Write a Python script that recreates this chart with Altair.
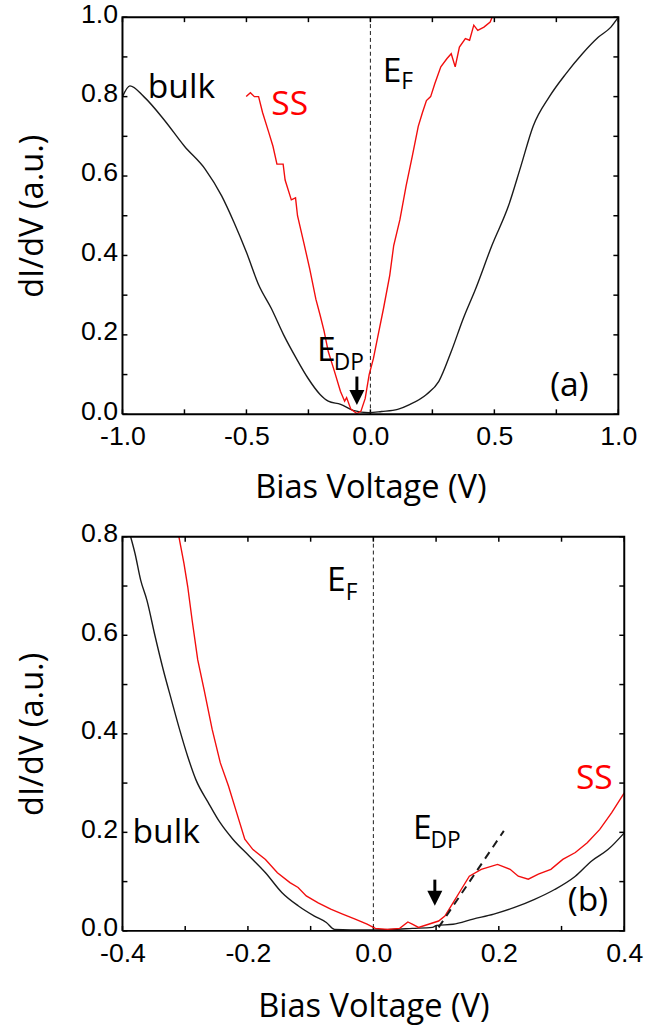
import altair as alt
import pandas as pd

# ---------------- panel (a) ----------------
a_bulk_v = [-1.0, -0.97, -0.914, -0.83, -0.75, -0.666, -0.6, -0.55, -0.5, -0.45,
            -0.40, -0.35, -0.30, -0.253, -0.203, -0.17, -0.12, -0.07, -0.005, 0.045,
            0.11, 0.16, 0.226, 0.276, 0.326, 0.375, 0.425, 0.49, 0.557, 0.607,
            0.656, 0.722, 0.789, 0.855, 0.92, 0.97, 1.0]
a_bulk_g = [0.80, 0.827, 0.80, 0.74, 0.675, 0.617, 0.55, 0.483, 0.408, 0.325,
            0.267, 0.20, 0.142, 0.092, 0.05, 0.033, 0.025, 0.01, 0.004, 0.007,
            0.0125, 0.025, 0.05, 0.083, 0.158, 0.242, 0.317, 0.425, 0.525, 0.625,
            0.725, 0.80, 0.858, 0.908, 0.95, 0.975, 1.0]
a_ss_v = [-0.501, -0.484, -0.468, -0.451, -0.435, -0.410, -0.393, -0.377, -0.352, -0.344,
          -0.319, -0.302, -0.294, -0.269, -0.245, -0.220, -0.203, -0.187, -0.170, -0.145,
          -0.121, -0.104, -0.096, -0.079, -0.055, -0.038, -0.021, -0.005, 0.012, 0.028,
          0.053, 0.078, 0.094, 0.119, 0.144, 0.169, 0.193, 0.210, 0.226, 0.243,
          0.260, 0.284, 0.309, 0.326, 0.342, 0.359, 0.383, 0.400, 0.417, 0.433,
          0.458, 0.483, 0.491]
a_ss_g = [0.80, 0.81, 0.80, 0.80, 0.76, 0.71, 0.675, 0.63, 0.63, 0.59,
          0.54, 0.545, 0.50, 0.433, 0.367, 0.29, 0.25, 0.21, 0.158, 0.108,
          0.058, 0.033, 0.042, 0.013, 0.002, 0.008, 0.04, 0.10, 0.14, 0.19,
          0.267, 0.35, 0.425, 0.49, 0.575, 0.65, 0.725, 0.76, 0.79, 0.80,
          0.833, 0.875, 0.896, 0.908, 0.875, 0.925, 0.946, 0.942, 0.98, 0.967,
          0.975, 0.988, 1.0]
a_xticks = [-1.0, -0.75, -0.5, -0.25, 0.0, 0.25, 0.5, 0.75, 1.0]
a_yticks = [0.0, 0.1, 0.2, 0.3, 0.4, 0.5, 0.6, 0.7, 0.8, 0.9, 1.0]
a_xlabels = [-1.0, -0.5, 0.0, 0.5, 1.0]
a_ylabels = [0.0, 0.2, 0.4, 0.6, 0.8, 1.0]
a_arrow = {"v": -0.0545, "top": 0.095, "bot": 0.058, "head": 0.042}
a_text_big = [("bulk", -0.898, 0.796, "black"), ("SS", -0.40, 0.754, "red"),
              ("E", 0.050, 0.8375, "black"), ("E", -0.215, 0.133, "black"),
              ("(a)", 0.725, 0.046, "black")]
a_text_sub = [("F", 0.124, 0.818), ("DP", -0.148, 0.1125)]

# ---------------- panel (b) ----------------
b_bulk_v = [-0.387, -0.380, -0.371, -0.361, -0.348, -0.335, -0.322, -0.309, -0.296, -0.283,
            -0.263, -0.244, -0.224, -0.198, -0.172, -0.146, -0.120, -0.094, -0.075, -0.062,
            -0.036, -0.003, 0.029, 0.062, 0.094, 0.101, 0.127, 0.159, 0.192, 0.224,
            0.257, 0.289, 0.322, 0.348, 0.374, 0.400]
b_bulk_g = [0.80, 0.766, 0.712, 0.671, 0.598, 0.530, 0.469, 0.409, 0.354, 0.307,
            0.260, 0.219, 0.186, 0.152, 0.118, 0.078, 0.051, 0.030, 0.017, 0.003,
            0.002, 0.002, 0.003, 0.005, 0.007, 0.011, 0.0135, 0.024, 0.034, 0.047,
            0.064, 0.084, 0.111, 0.142, 0.165, 0.199]
b_ss_v = [-0.310, -0.302, -0.296, -0.289, -0.280, -0.270, -0.257, -0.244, -0.231, -0.218,
          -0.205, -0.192, -0.172, -0.153, -0.133, -0.120, -0.107, -0.088, -0.068, -0.049,
          -0.029, -0.010, 0.003, 0.023, 0.042, 0.055, 0.062, 0.072, 0.088, 0.104,
          0.114, 0.127, 0.140, 0.153, 0.172, 0.198, 0.218, 0.231, 0.247, 0.263,
          0.283, 0.302, 0.322, 0.341, 0.361, 0.380, 0.400]
b_ss_g = [0.80, 0.746, 0.699, 0.631, 0.550, 0.490, 0.409, 0.341, 0.294, 0.240,
          0.186, 0.165, 0.145, 0.118, 0.098, 0.088, 0.071, 0.057, 0.044, 0.034,
          0.024, 0.0135, 0.005, 0.003, 0.005, 0.018, 0.0135, 0.007, 0.0135, 0.020,
          0.030, 0.057, 0.084, 0.111, 0.125, 0.135, 0.125, 0.111, 0.105, 0.115,
          0.125, 0.145, 0.159, 0.179, 0.206, 0.240, 0.280]
b_fit_v = [0.104, 0.208]
b_fit_g = [0.007, 0.203]
b_xticks = [-0.4, -0.3, -0.2, -0.1, 0.0, 0.1, 0.2, 0.3, 0.4]
b_yticks = [0.0, 0.1, 0.2, 0.3, 0.4, 0.5, 0.6, 0.7, 0.8]
b_xlabels = [-0.4, -0.2, 0.0, 0.2, 0.4]
b_ylabels = [0.0, 0.2, 0.4, 0.6, 0.8]
b_arrow = {"v": 0.098, "top": 0.104, "bot": 0.078, "head": 0.066}
b_text_big = [("bulk", -0.384, 0.179, "black"), ("SS", 0.323, 0.287, "red"),
              ("E", -0.074, 0.689, "black"), ("E", 0.063, 0.186, "black"),
              ("(b)", 0.310, 0.0405, "black")]
b_text_sub = [("F", -0.044, 0.672), ("DP", 0.091, 0.169)]

TICK_FONT = "Liberation Sans"
TEXT_FONT = "Open Sans"
RED = "#f20d0d"
BLACK = "#1a1a1a"
LABEL_EXPR = "(datum.value < 0 ? '-' : '') + format(abs(datum.value), '.1f')"
TICK_LEN = 5  # px


def panel(W, H, xdom, ydom, xticks, yticks, xlabels, ylabels, bulk, ss, arrow,
          tbig, tsub, ytitlepad, xtitlepad, fit=None):
    xs = alt.Scale(domain=xdom, nice=False, zero=False)
    ys = alt.Scale(domain=ydom, nice=False, zero=False)
    xaxis = alt.Axis(values=xlabels, title="Bias Voltage (V)", labelExpr=LABEL_EXPR,
                     ticks=False, tickSize=0, domain=False, grid=False,
                     labelFlush=False, labelOverlap=False, labelPadding=10,
                     labelFont=TICK_FONT, labelFontSize=27, labelColor="black",
                     titleFont=TEXT_FONT, titleFontSize=33, titleFontWeight="normal",
                     titleColor="black", titlePadding=xtitlepad)
    yaxis = alt.Axis(values=ylabels, title="dI/dV (a.u.)", labelExpr=LABEL_EXPR,
                     ticks=False, tickSize=0, domain=False, grid=False,
                     labelFlush=False, labelOverlap=False, labelPadding=5,
                     labelOffset=-3,
                     labelFont=TICK_FONT, labelFontSize=27, labelColor="black",
                     titleFont=TEXT_FONT, titleFontSize=33, titleFontWeight="normal",
                     titleColor="black", titlePadding=ytitlepad)

    def X(f):
        return alt.X(f, type="quantitative", scale=xs, axis=xaxis)

    def Y(f):
        return alt.Y(f, type="quantitative", scale=ys, axis=yaxis)

    dx = (xdom[1] - xdom[0]) * TICK_LEN / W
    dy = (ydom[1] - ydom[0]) * TICK_LEN / H

    layers = []
    # E_F dashed line
    layers.append(alt.Chart(pd.DataFrame({"v": [0.0]})).mark_rule(
        color=BLACK, strokeWidth=1, strokeDash=[4, 3]).encode(x=X("v")))
    # inward ticks as short line segments on all four sides
    rows = []
    k = 0
    for v in xticks:
        for a, b in ((ydom[0], ydom[0] + dy), (ydom[1], ydom[1] - dy)):
            rows += [{"x": v, "y": a, "k": k, "o": 0}, {"x": v, "y": b, "k": k, "o": 1}]
            k += 1
    for g in yticks:
        for a, b in ((xdom[0], xdom[0] + dx), (xdom[1], xdom[1] - dx)):
            rows += [{"x": a, "y": g, "k": k, "o": 0}, {"x": b, "y": g, "k": k, "o": 1}]
            k += 1
    layers.append(alt.Chart(pd.DataFrame(rows)).mark_line(color="#000000", strokeWidth=1.5)
                  .encode(x=X("x"), y=Y("y"), detail="k:N", order="o:Q"))
    # curves
    layers.append(alt.Chart(pd.DataFrame({"v": bulk[0], "g": bulk[1]})).mark_line(
        color=BLACK, strokeWidth=1.4, interpolate="monotone").encode(x=X("v"), y=Y("g")))
    layers.append(alt.Chart(pd.DataFrame({"v": ss[0], "g": ss[1]})).mark_line(
        color=RED, strokeWidth=1.4).encode(x=X("v"), y=Y("g")))
    if fit is not None:
        layers.append(alt.Chart(pd.DataFrame({"v": fit[0], "g": fit[1]})).mark_line(
            color=BLACK, strokeWidth=2, strokeDash=[8, 6]).encode(x=X("v"), y=Y("g")))
    # frame: closed outline drawn as a line mark through the scales
    fr = pd.DataFrame({"x": [xdom[0], xdom[1], xdom[1], xdom[0], xdom[0]],
                       "y": [ydom[0], ydom[0], ydom[1], ydom[1], ydom[0]],
                       "o": [0, 1, 2, 3, 4]})
    layers.append(alt.Chart(fr).mark_line(color="#000000", strokeWidth=2)
                  .encode(x=X("x"), y=Y("y"), order="o:Q"))
    # arrow
    layers.append(alt.Chart(pd.DataFrame({"v": [arrow["v"]], "a": [arrow["top"]], "b": [arrow["bot"]]}))
                  .mark_rule(color="black", strokeWidth=3)
                  .encode(x=X("v"), y=Y("a"), y2="b"))
    layers.append(alt.Chart(pd.DataFrame({"v": [arrow["v"]], "g": [arrow["head"]]}))
                  .mark_point(shape="M-1,-1L1,-1L0,1Z", filled=True, size=230,
                              color="black", opacity=1, strokeWidth=0)
                  .encode(x=X("v"), y=Y("g")))
    # texts
    big = pd.DataFrame(tbig, columns=["t", "v", "g", "c"])
    sub = pd.DataFrame(tsub, columns=["t", "v", "g"])
    layers.append(alt.Chart(big).mark_text(align="left", baseline="alphabetic",
                                           font=TEXT_FONT, fontSize=34).encode(
        x=X("v"), y=Y("g"), text="t", color=alt.Color("c", scale=None)))
    layers.append(alt.Chart(sub).mark_text(align="left", baseline="alphabetic",
                                           font=TEXT_FONT, fontSize=23, color="black").encode(
        x=X("v"), y=Y("g"), text="t"))
    return alt.layer(*layers).properties(width=W, height=H)


top = panel(502, 402, [-1.0, 1.0], [0.0, 1.0], a_xticks, a_yticks, a_xlabels, a_ylabels,
            (a_bulk_v, a_bulk_g), (a_ss_v, a_ss_g), a_arrow, a_text_big, a_text_sub, 31, 22)
bottom = panel(508, 399, [-0.4, 0.4], [0.0, 0.8], b_xticks, b_yticks, b_xlabels, b_ylabels,
               (b_bulk_v, b_bulk_g), (b_ss_v, b_ss_g), b_arrow, b_text_big, b_text_sub, 31, 25,
               fit=(b_fit_v, b_fit_g))

chart = alt.vconcat(top, bottom, spacing=16).configure(
    padding={"left": 17, "top": -6, "right": 2, "bottom": 5},
    background="white",
).configure_view(strokeWidth=0)

chart.save("out.html", embed_options={"renderer": "svg", "actions": False})
